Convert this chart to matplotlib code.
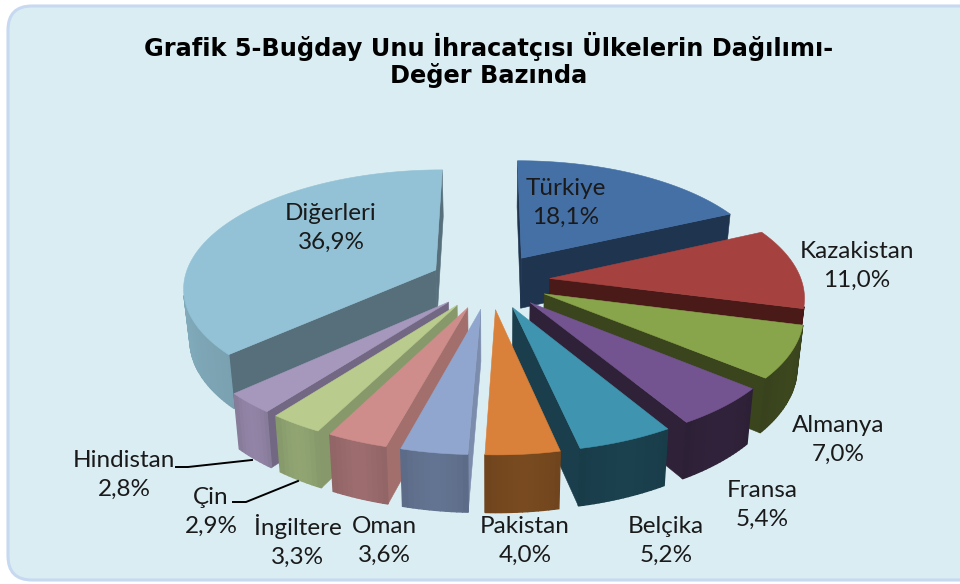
"""Exploded 3D pie of wheat flour exporters, drawn by hand since matplotlib has no 3D pie."""

import numpy as np
import matplotlib
matplotlib.use("Agg")
import matplotlib.pyplot as plt
from matplotlib.patches import FancyBboxPatch, Polygon

labels = ["Türkiye", "Kazakistan", "Almanya", "Fransa", "Belçika", "Pakistan",
          "Oman", "İngiltere", "Çin", "Hindistan", "Diğerleri"]
values = [18.1, 11.0, 7.0, 5.4, 5.2, 4.0, 3.6, 3.3, 2.9, 2.8, 36.9]
value_labels = ["18,1%", "11,0%", "7,0%", "5,4%", "5,2%", "4,0%",
                "3,6%", "3,3%", "2,9%", "2,8%", "36,9%"]

# top face, cut wall, outer rim
top_colors = ["#4470A6", "#A5423F", "#89A54B", "#735490", "#3F95AF", "#D9803A",
              "#91A6CE", "#CE8D8B", "#B9CC8E", "#A698BC", "#93C2D6"]
wall_colors = ["#1E344F", "#4A1A18", "#3A441D", "#2E2138", "#1A3E4B", "#7A4A20",
               "#7C8CAC", "#A26F6D", "#87996A", "#736884", "#566F7B"]
rim_colors = ["#1E344F", "#4A1A18", "#3A441D", "#2E2138", "#1A3E4B", "#74471E",
              "#5F6F8C", "#96686A", "#8B9E6E", "#8C7F9F", "#7FA8B8"]

label_pos = [(566, 203), (857, 266), (838, 440), (762, 505), (666, 541), (525, 541),
             (384, 541), (298, 541), (211, 512), (124, 475), (331, 228)]

CX, CY = 490, 281
R = 252
EXPLODE = 60
DEPTH = 52
K = 0.463
D = 1835
TAPER = 0.0004  # the underside sits further from the camera


def project(x, y, z=0.0):
    s = D / (D + y) * (1 - z * TAPER)
    return CX + x * s, CY - K * y * s + z * s


def ring(a, ox, oy, z=0.0):
    return project(ox + R * np.sin(a), oy + R * np.cos(a), z)


def area(pts):
    p = np.array(pts)
    return 0.5 * np.sum(p[:, 0] * np.roll(p[:, 1], -1) - np.roll(p[:, 0], -1) * p[:, 1])


def shade(color, f):
    rgb = np.array(matplotlib.colors.to_rgb(color)) * f
    return tuple(np.clip(rgb, 0, 1))


fig = plt.figure(figsize=(9.6, 5.84), dpi=100, facecolor="white")
ax = fig.add_axes([0, 0, 1, 1])
ax.set_xlim(0, 960)
ax.set_ylim(584, 0)
ax.axis("off")

ax.add_patch(FancyBboxPatch((8, 6), 990, 574, boxstyle="round,pad=0,rounding_size=24",
                            facecolor="#DAEDF3", edgecolor="#C6D9F1", linewidth=2.2))

fractions = np.array(values) / np.sum(values)
ends = np.cumsum(fractions) * 2 * np.pi
starts = ends - fractions * 2 * np.pi
mids = (starts + ends) / 2

for i in np.argsort(-np.cos(mids)):
    a0, a1 = starts[i], ends[i]
    ox, oy = EXPLODE * np.sin(mids[i]), EXPLODE * np.cos(mids[i])
    apex_t = project(ox, oy)
    apex_b = project(ox, oy, DEPTH)

    # cut walls, only those facing the camera
    for a, sign in ((a0, -1), (a1, 1)):
        pts = [apex_t, ring(a, ox, oy), ring(a, ox, oy, DEPTH), apex_b]
        if area(pts) * sign > 0:
            ax.add_patch(Polygon(pts, facecolor=wall_colors[i], edgecolor=wall_colors[i],
                                 linewidth=0.4))

    # outer rim in thin strips, so it can carry a soft gradient
    theta = np.linspace(a0, a1, max(int((a1 - a0) * 60), 4))
    for j in range(len(theta) - 1):
        t0, t1 = theta[j], theta[j + 1]
        pts = [ring(t0, ox, oy), ring(t1, ox, oy), ring(t1, ox, oy, DEPTH), ring(t0, ox, oy, DEPTH)]
        if area(pts) > 0:
            continue
        f = 1.0 + 0.08 * np.sin((j + 0.5) / (len(theta) - 1) * np.pi) - 0.04
        c = shade(rim_colors[i], f)
        ax.add_patch(Polygon(pts, facecolor=c, edgecolor=c, linewidth=1.0))

    top = [apex_t] + [ring(t, ox, oy) for t in theta]
    ax.add_patch(Polygon(top, facecolor=top_colors[i], edgecolor=top_colors[i], linewidth=0.4))

for name, val, (x, y) in zip(labels, value_labels, label_pos):
    ax.text(x, y, f"{name}\n{val}", ha="center", va="center", fontsize=17.5,
            family="Lato", color="#1A1A1A", linespacing=1.5)

# leader lines for the two labels set away from their slices
ax.plot([176, 188, 252], [467, 467, 460], color="black", linewidth=1.4)
ax.plot([233, 246, 298], [502, 502, 481], color="black", linewidth=1.4)

ax.text(489, 60, "Grafik 5-Buğday Unu İhracatçısı Ülkelerin Dağılımı-\nDeğer Bazında",
        ha="center", va="center", fontsize=17.3, fontweight="bold", family="DejaVu Sans",
        color="black", linespacing=1.08)

fig.savefig("out.png", dpi=100, facecolor=fig.get_facecolor())
